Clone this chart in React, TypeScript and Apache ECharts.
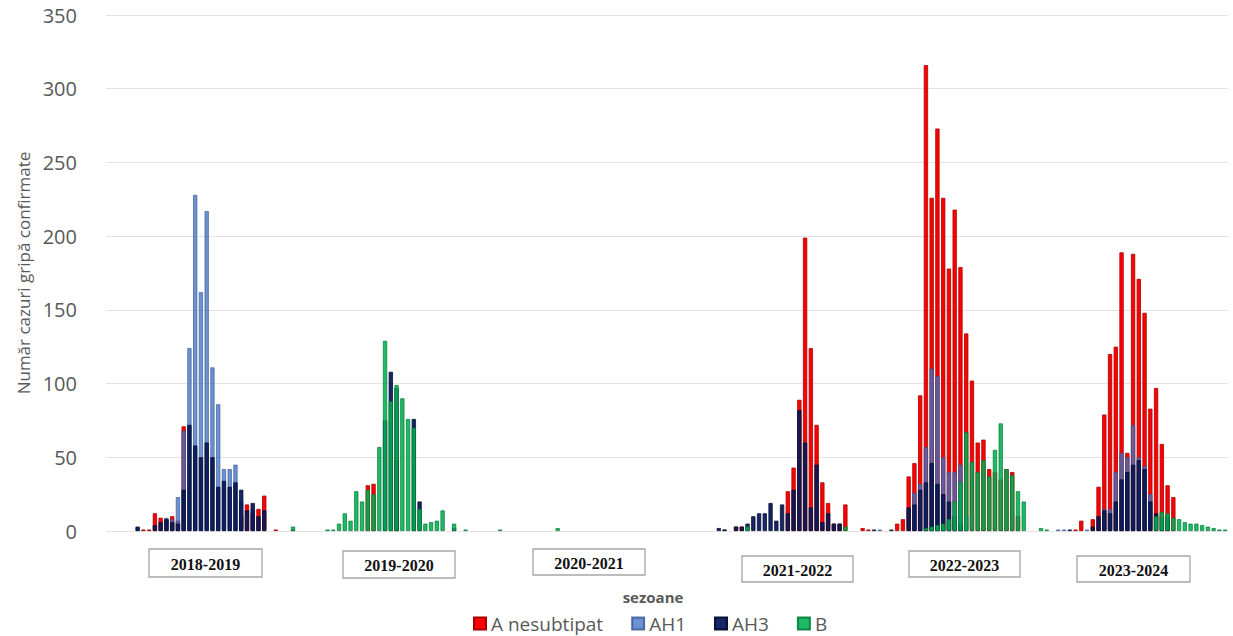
import React, { useEffect, useRef } from "react";
import * as echarts from "echarts";

// ---- data ----
const WEEKS = 195;
const seriesNames = ["A nesubtipat", "AH1", "AH3", "B"];
const seasonLabels = ["2018-2019", "2019-2020", "2020-2021", "2021-2022", "2022-2023", "2023-2024"];
const yTicks = [0, 50, 100, 150, 200, 250, 300, 350];

// week index where each season's block of values begins
const seasonStart = [5, 38, 68, 106, 131, 165];

// 2018-2019
const red1 = [0, 1, 1, 12, 9, 8, 10, 7, 71, 0, 0, 0, 0, 0, 0, 0, 0, 0, 10, 18, 12, 15, 24, 0, 1, 0, 0, 0];
const ah1_1 = [2, 0, 0, 0, 0, 9, 8, 23, 68, 124, 228, 162, 217, 111, 86, 42, 42, 45, 20, 0, 15, 0, 0, 0, 0, 0, 0, 0];
const ah3_1 = [3, 0, 0, 4, 6, 8, 6, 5, 28, 72, 58, 50, 60, 50, 30, 34, 30, 33, 28, 14, 19, 10, 14, 0, 0, 0, 0, 1];
const b1 = [0, 0, 0, 0, 0, 0, 0, 0, 0, 0, 0, 0, 0, 0, 0, 0, 0, 0, 0, 0, 0, 0, 0, 0, 0, 0, 0, 3];
// 2019-2020
const red2 = [0, 0, 0, 0, 0, 0, 0, 31, 32, 0, 0, 0, 48, 0, 0, 0, 0, 0, 0, 0, 0, 0, 0, 0, 0];
const ah1_2: number[] = [];
const ah3_2 = [0, 0, 0, 0, 0, 0, 0, 0, 0, 0, 75, 108, 97, 0, 0, 76, 20, 0, 0, 0, 0, 0, 2, 0, 0];
const b2 = [1, 1, 5, 12, 7, 27, 20, 28, 25, 57, 129, 88, 99, 90, 76, 70, 15, 5, 6, 7, 14, 0, 5, 0, 1];
// 2020-2021
const red3: number[] = [];
const ah1_3: number[] = [];
const ah3_3: number[] = [];
const b3 = [1, 0, 0, 0, 0, 0, 0, 0, 0, 0, 2];
// 2021-2022
const red4 = [0, 0, 0, 3, 3, 0, 0, 0, 0, 0, 0, 0, 27, 43, 89, 199, 124, 72, 33, 19, 5, 5, 18];
const ah1_4 = [0, 1];
const ah3_4 = [2, 1, 0, 3, 3, 5, 10, 12, 12, 19, 7, 18, 12, 28, 82, 60, 16, 45, 6, 12, 5, 5, 0];
const b4 = [0, 0, 0, 0, 0, 3, 0, 0, 0, 0, 0, 0, 0, 0, 0, 0, 0, 0, 0, 0, 0, 0, 3];
// 2022-2023
const red5 = [2, 1, 0, 0, 0, 0, 5, 8, 37, 46, 92, 316, 226, 273, 226, 178, 218, 179, 134, 102, 60, 62, 42, 40, 35, 42, 40, 10, 0, 0, 0, 0, 0];
const ah1_5 = [0, 0, 0, 1, 0, 0, 0, 0, 0, 26, 32, 57, 110, 105, 50, 40, 40, 45, 10];
const ah3_5 = [0, 0, 1, 0, 0, 1, 0, 0, 16, 18, 28, 33, 46, 32, 25, 20, 10, 5];
const b5 = [0, 0, 0, 0, 0, 0, 0, 0, 0, 0, 0, 2, 3, 4, 5, 8, 20, 33, 67, 47, 40, 48, 37, 55, 73, 42, 38, 27, 20, 0, 0, 2, 1];
// 2023-2024
const red6 = [0, 0, 0, 1, 7, 0, 8, 30, 79, 120, 125, 189, 53, 188, 171, 148, 83, 97, 59, 31, 23];
const ah1_6 = [1, 1, 0, 0, 0, 1, 0, 0, 15, 15, 40, 53, 50, 72, 50, 44, 25];
const ah3_6 = [0, 0, 1, 0, 0, 0, 3, 10, 14, 12, 20, 35, 40, 45, 48, 42, 20, 12, 10, 10];
const b6 = [0, 0, 0, 0, 0, 0, 0, 0, 0, 0, 0, 0, 0, 0, 0, 0, 0, 10, 13, 12, 9, 8, 6, 5, 5, 4, 3, 2, 1, 1];

const redSeasons = [red1, red2, red3, red4, red5, red6];
const ah1Seasons = [ah1_1, ah1_2, ah1_3, ah1_4, ah1_5, ah1_6];
const ah3Seasons = [ah3_1, ah3_2, ah3_3, ah3_4, ah3_5, ah3_6];
const bSeasons = [b1, b2, b3, b4, b5, b6];

const weekCategories = Array.from({ length: WEEKS }, (_, i) => `S${i + 1}`);

function buildWeekly(segments: number[][]): (number | null)[] {
  const out: (number | null)[] = new Array(WEEKS).fill(null);
  segments.forEach((vals, s) => {
    vals.forEach((v, k) => {
      if (v > 0) out[seasonStart[s] + k] = v;
    });
  });
  return out;
}

const colors = ["#FF0000", "#4472C4", "#0B1A5C", "#00B050"];
const borders = ["#A80000", "#2F528F", "#000A30", "#007A35"];
const opacities = [1, 0.78, 0.95, 0.88];

// season label box layout
const boxes = [
  { x: 149, y: 549, w: 113, h: 28 },
  { x: 343, y: 551, w: 112, h: 27 },
  { x: 533, y: 549, w: 112, h: 26 },
  { x: 742, y: 556, w: 111, h: 26 },
  { x: 909, y: 551, w: 111, h: 26 },
  { x: 1077, y: 556, w: 113, h: 26 },
];

export default function App() {
  const ref = useRef<HTMLDivElement>(null);
  useEffect(() => {
    if (!ref.current) return;
    const chart = echarts.init(ref.current, null, { renderer: "svg" });
    const allSeasons = [redSeasons, ah1Seasons, ah3Seasons, bSeasons];
    const font = "'Open Sans', 'DejaVu Sans', sans-serif";
    chart.setOption({
      animation: false,
      backgroundColor: "#ffffff",
      grid: { left: 106, right: 5, top: 15, bottom: 105, containLabel: false },
      legend: {
        data: seriesNames,
        left: 473,
        top: 614,
        padding: 0,
        itemWidth: 12,
        itemHeight: 12,
        itemGap: 28,
        icon: "rect",
        textStyle: { color: "#595959", fontSize: 19, lineHeight: 19, fontFamily: font },
      },
      xAxis: {
        type: "category",
        data: weekCategories,
        axisLabel: { show: false },
        axisTick: { show: false },
        axisLine: { show: false },
        name: "sezoane",
        nameLocation: "middle",
        nameGap: 58,
        nameTextStyle: {
          color: "#595959",
          fontSize: 15,
          fontWeight: "bold",
          fontFamily: font,
          padding: [0, 28, 0, 0],
        },
      },
      yAxis: {
        type: "value",
        min: yTicks[0],
        max: yTicks[yTicks.length - 1],
        interval: 50,
        axisLine: { show: false },
        axisTick: { show: false },
        axisLabel: { color: "#595959", fontSize: 20, fontFamily: font, margin: 29 },
        splitLine: { lineStyle: { color: "#E3E3E3", width: 1 } },
        name: "Număr cazuri gripă confirmate",
        nameLocation: "middle",
        nameGap: 73,
        nameTextStyle: { color: "#595959", fontSize: 17, fontFamily: font },
      },
      series: seriesNames.map((name, k) => ({
        name,
        type: "bar",
        data: buildWeekly(allSeasons[k]),
        barWidth: "74%",
        barGap: "-100%",
        itemStyle: {
          color: colors[k],
          borderColor: borders[k],
          borderWidth: 0.8,
          opacity: opacities[k],
        },
      })),
      graphic: boxes.flatMap((b, i) => [
        {
          type: "rect",
          shape: { x: b.x, y: b.y, width: b.w, height: b.h },
          style: { fill: "#ffffff", stroke: "#A6A6A6", lineWidth: 1.3 },
          z: 10,
        },
        {
          type: "text",
          x: b.x + b.w / 2,
          y: b.y + b.h / 2 + 1,
          style: {
            text: seasonLabels[i],
            fill: "#111111",
            font: "bold 16px 'Liberation Serif', 'Times New Roman', serif",
            textAlign: "center",
            textVerticalAlign: "middle",
          },
          z: 11,
        },
      ]),
    });
    return () => chart.dispose();
  }, []);
  return (
    <div
      ref={ref}
      style={{ position: "fixed", left: 0, top: 0, width: 1233, height: 636, background: "#fff" }}
    />
  );
}
